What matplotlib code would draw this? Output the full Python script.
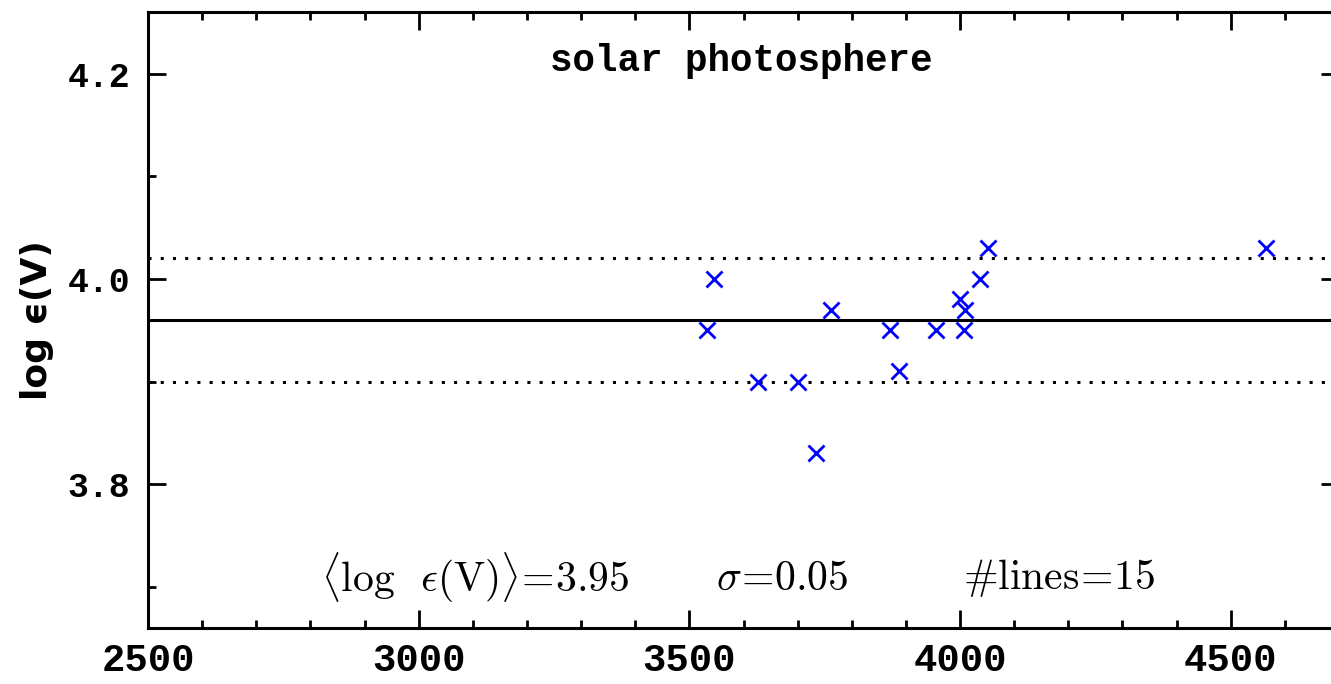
import matplotlib
matplotlib.use("Agg")
import matplotlib.pyplot as plt
from matplotlib.ticker import MultipleLocator, FixedLocator

# line wavelengths (A) and abundances of individual V lines
wavelength = [3532, 3546, 3627, 3701, 3734, 3761, 3870, 3887, 3955,
              3999, 4010, 4007, 4037, 4051, 4566]
log_eps = [3.95, 4.00, 3.90, 3.90, 3.83, 3.97, 3.95, 3.91, 3.95,
           3.98, 3.97, 3.95, 4.00, 4.03, 4.03]

mean_level = 3.96
band_levels = [3.90, 4.02]
y_ticks = [3.8, 4.0, 4.2]
y_ticklabels = ["3.8", "4.0", "4.2"]

plt.rcParams['mathtext.fontset'] = 'cm'

fig = plt.figure(figsize=(13.31, 6.84), dpi=100)
ax = fig.add_axes([148 / 1331, 1 - 628 / 684, (1339 - 148) / 1331, (628 - 12) / 684])

ax.axhline(mean_level, color='black', lw=2.2)
for lev in band_levels:
    ax.axhline(lev, color='black', lw=2.2, ls=(0, (1, 3)))

ax.plot(wavelength, log_eps, ls='none', marker='x', color='blue',
        markersize=11, markeredgewidth=2)

ax.set_xlim(2500, 4700)
ax.set_ylim(3.66, 4.26)

ax.xaxis.set_major_locator(MultipleLocator(500))
ax.xaxis.set_minor_locator(MultipleLocator(100))
ax.yaxis.set_major_locator(FixedLocator(y_ticks))
ax.yaxis.set_minor_locator(MultipleLocator(0.1))
ax.set_yticklabels(y_ticklabels)

ax.tick_params(which='both', direction='in', top=True, right=True, width=2)
ax.tick_params(which='major', length=13)
ax.tick_params(which='minor', length=6)
ax.tick_params(axis='x', pad=11)
ax.tick_params(axis='y', pad=13)
for sp in ax.spines.values():
    sp.set_linewidth(2.2)

for lab in ax.get_xticklabels():
    lab.set_fontfamily('Liberation Mono')
    lab.set_fontweight('bold')
    lab.set_fontsize(28)
for lab in ax.get_yticklabels():
    lab.set_fontfamily('Liberation Mono')
    lab.set_fontweight('bold')
    lab.set_fontsize(25)

ax.set_ylabel('log \u03f5(V)', fontsize=26, fontweight='bold', family='DejaVu Sans')
ax.yaxis.set_label_coords(-0.079, 0.5)

ax.text(3595, 4.212, 'solar photosphere', ha='center', va='center',
        family='Liberation Mono', fontweight='bold', fontsize=27)

ax.text(3104, 3.709, r'$\langle\log\;\;\epsilon(\mathrm{V})\rangle\!=\!3.95$',
        ha='center', va='center', fontsize=30)
ax.text(3671, 3.709, r'$\sigma\!=\!0.05$', ha='center', va='center', fontsize=30)
ax.text(4183, 3.709, r'$\#\mathrm{lines}\!=\!15$', ha='center', va='center', fontsize=30)

fig.savefig('out.png', dpi=100)
